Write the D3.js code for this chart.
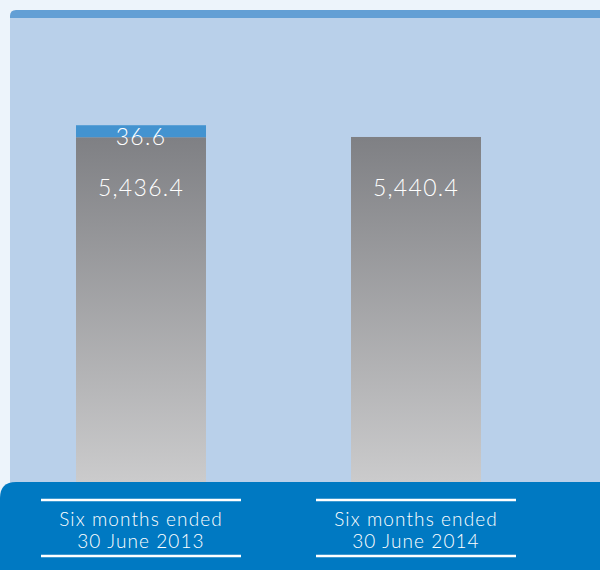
<!DOCTYPE html>
<html>
<head>
<meta charset="utf-8">
<script src="https://cdn.jsdelivr.net/npm/d3@7"></script>
<style>
  body { margin: 0; background: #edf4fb; }
  svg { display: block; }
</style>
</head>
<body>
<div id="chart"></div>
<script>
// data
var periods = ["Six months ended\n30 June 2013", "Six months ended\n30 June 2014"];
var baseValues = [5436.4, 5440.4];
var extraValues = [36.6, 0];
var baseLabels = ["5,436.4", "5,440.4"];
var extraLabels = ["36.6", ""];

var W = 600, H = 570;
var bandTop = 482;

var svg = d3.select("#chart")
    .append("svg")
    .attr("width", W)
    .attr("height", H);

// panel background with darker strip on top
svg.append("path")
    .attr("d", "M10,16 Q10,10 16,10 L600,10 L600,490 L10,490 Z")
    .attr("fill", "#639fd5");
svg.append("rect")
    .attr("x", 10).attr("y", 18)
    .attr("width", 590).attr("height", 472)
    .attr("fill", "#b9d0ea");

// scales
var x = d3.scaleBand()
    .domain(periods)
    .range([10, 547])
    .paddingInner(0.5273)
    .paddingOuter(0.24);
var y = d3.scaleLinear()
    .domain([0, 5440])
    .range([bandTop, 137]);

var defs = svg.append("defs");
var grad = defs.append("linearGradient")
    .attr("id", "greyGrad")
    .attr("x1", 0).attr("y1", 0).attr("x2", 0).attr("y2", 1);
grad.append("stop").attr("offset", "0%").attr("stop-color", "#7f8084");
grad.append("stop").attr("offset", "100%").attr("stop-color", "#cbcbcc");

var rows = periods.map(function(p, i) {
  return {period: p, base: baseValues[i], extra: extraValues[i],
          baseLabel: baseLabels[i], extraLabel: extraLabels[i]};
});

// grey bars
svg.selectAll(".bar")
    .data(rows)
  .enter().append("rect")
    .attr("class", "bar")
    .attr("x", function(d) { return x(d.period); })
    .attr("width", x.bandwidth())
    .attr("y", function(d) { return y(d.base); })
    .attr("height", function(d) { return bandTop - y(d.base); })
    .attr("fill", "url(#greyGrad)");

// blue stacked piece, kept visible with a minimum height
var minH = 12;
svg.selectAll(".extra")
    .data(rows.filter(function(d) { return d.extra > 0; }))
  .enter().append("rect")
    .attr("class", "extra")
    .attr("x", function(d) { return x(d.period); })
    .attr("width", x.bandwidth())
    .attr("y", function(d) {
      return y(d.base) - Math.max(y(0) - y(d.extra), minH);
    })
    .attr("height", function(d) { return Math.max(y(0) - y(d.extra), minH); })
    .attr("fill", "#4393d0");

var labelFont = "Lato, 'Open Sans', sans-serif";

svg.selectAll(".baseLabel")
    .data(rows)
  .enter().append("text")
    .attr("class", "baseLabel")
    .attr("x", function(d) { return x(d.period) + x.bandwidth() / 2; })
    .attr("y", function(d) { return y(d.base) + 59; })
    .attr("text-anchor", "middle")
    .attr("fill", "#ffffff")
    .style("font-family", labelFont)
    .style("font-weight", 300)
    .style("font-size", "23px")
    .style("letter-spacing", "1.3px")
    .text(function(d) { return d.baseLabel; });

svg.selectAll(".extraLabel")
    .data(rows.filter(function(d) { return d.extra > 0; }))
  .enter().append("text")
    .attr("class", "extraLabel")
    .attr("x", function(d) { return x(d.period) + x.bandwidth() / 2; })
    .attr("y", function(d) {
      return y(d.base) - Math.max(y(0) - y(d.extra), minH) + 20;
    })
    .attr("text-anchor", "middle")
    .attr("fill", "#ffffff")
    .style("font-family", labelFont)
    .style("font-weight", 300)
    .style("font-size", "23px")
    .style("letter-spacing", "1.3px")
    .text(function(d) { return d.extraLabel; });

// bottom blue band with category labels
svg.append("path")
    .attr("d", "M0,498 Q0,482 16,482 L600,482 L600,570 L0,570 Z")
    .attr("fill", "#0079c2");

var cat = svg.selectAll(".cat")
    .data(periods)
  .enter().append("g")
    .attr("class", "cat")
    .attr("transform", function(d) {
      return "translate(" + (x(d) + x.bandwidth() / 2) + ",0)";
    });

cat.append("line")
    .attr("x1", -100).attr("x2", 100)
    .attr("y1", 500).attr("y2", 500)
    .attr("stroke", "#ffffff").attr("stroke-width", 2.5);
cat.append("line")
    .attr("x1", -100).attr("x2", 100)
    .attr("y1", 556).attr("y2", 556)
    .attr("stroke", "#ffffff").attr("stroke-width", 2.5);

cat.each(function(d) {
  var lines = d.split("\n");
  d3.select(this).selectAll("text")
      .data(lines)
    .enter().append("text")
      .attr("x", 0)
      .attr("y", function(t, i) { return 526 + i * 21.5; })
      .attr("text-anchor", "middle")
      .attr("fill", "#ffffff")
      .style("font-family", labelFont)
      .style("font-weight", 300)
      .style("font-size", "19px")
      .style("letter-spacing", "1.1px")
      .text(function(t) { return t; });
});
</script>
</body>
</html>
